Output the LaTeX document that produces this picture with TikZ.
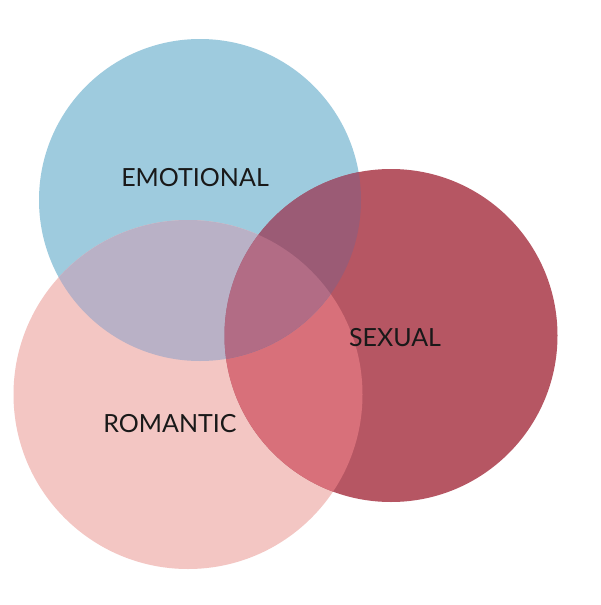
\documentclass[tikz,border=0pt]{standalone}
\usepackage{fontspec}
\setmainfont{Lato}
\tikzset{
	caption/.style = {text = black!90, font = \fontsize{25}{28}\selectfont}
}
\definecolor{emotionalblue}{HTML}{9ECBDE}
\definecolor{romanticpink}{HTML}{F3C6C3}
\definecolor{sexualred}{HTML}{B65663}
\definecolor{blueandpink}{HTML}{B9B1C6}
\definecolor{blueandred}{HTML}{9B5B75}
\definecolor{pinkandred}{HTML}{D8707A}
\definecolor{allthree}{HTML}{B26C85}
\newcommand{\emotionalpath}{(200, 200) circle (161)}
\newcommand{\romanticpath}{(188, 394.5) circle (174.5)}
\newcommand{\sexualpath}{(391, 335.5) circle (166.5)}

\begin{document}
\begin{tikzpicture}[x = 1pt, y = -1pt]
		\useasboundingbox (0, 0) rectangle (600, 605);
		\fill[white] (0, 0) rectangle (600, 605);

		\fill[emotionalblue] \emotionalpath;
		\fill[romanticpink] \romanticpath;
		\fill[sexualred] \sexualpath;
		% overlaps
		\begin{scope}
			\clip \romanticpath;
			\fill[pinkandred] \sexualpath;
		\end{scope}
		\begin{scope}
			\clip \emotionalpath;
			\fill[blueandpink] \romanticpath;
			\fill[blueandred] \sexualpath;
			\clip \romanticpath;
			\fill[allthree] \sexualpath;
		\end{scope}

		\node[caption] (emotional) at (195, 178) {EMOTIONAL};
		\node[caption] (romantic) at (170, 424) {ROMANTIC};
		\node[caption] (sexual) at (395, 338) {SEXUAL};
	\end{tikzpicture}
\end{document}
